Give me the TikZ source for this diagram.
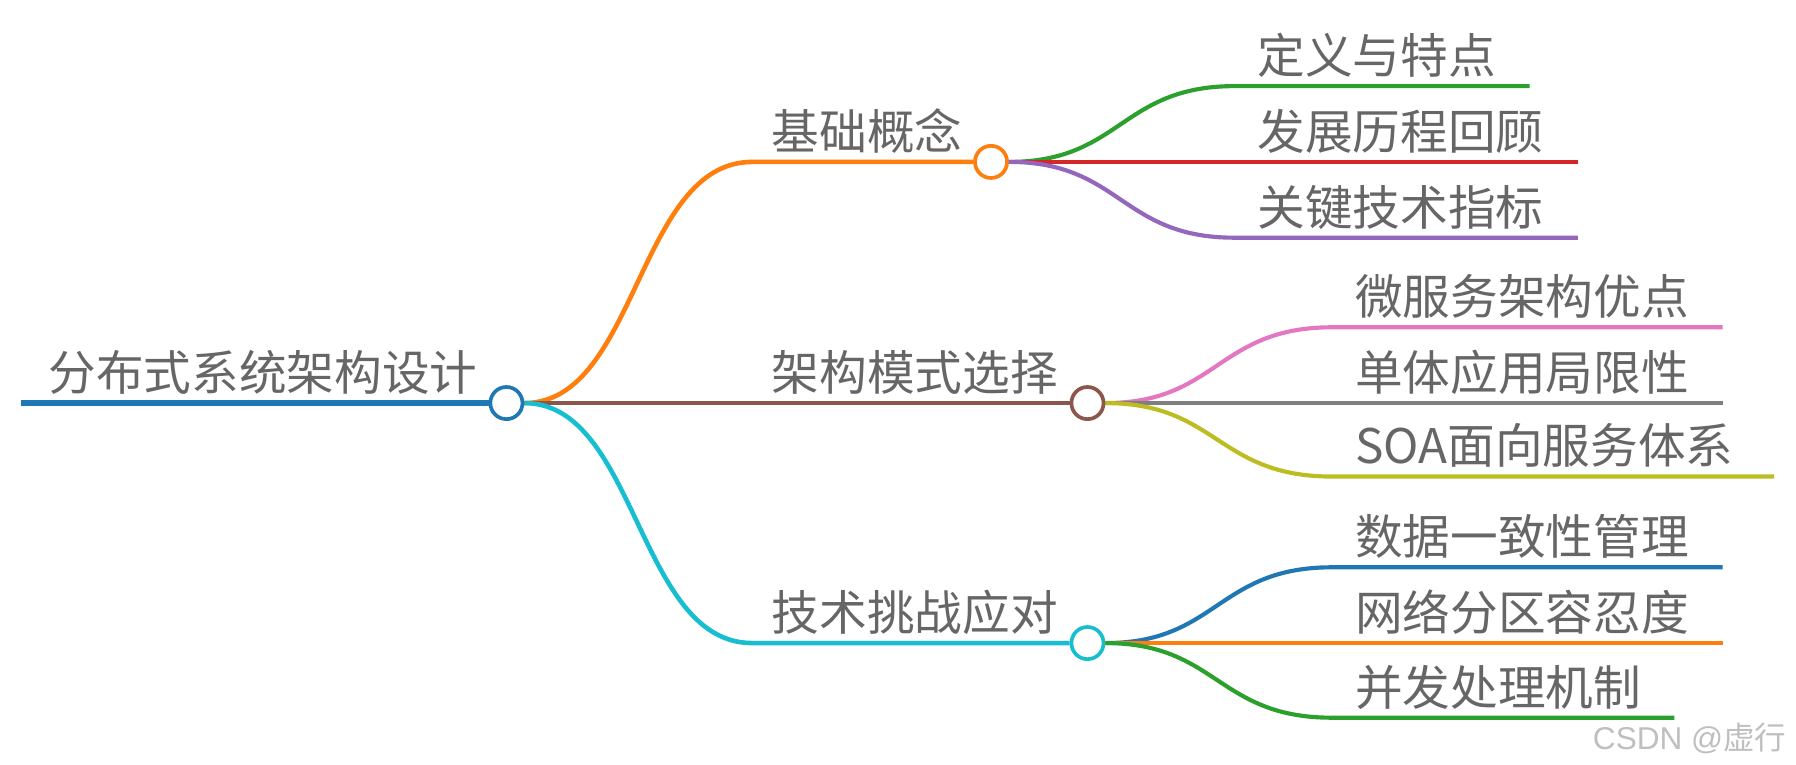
\documentclass[tikz,border=0pt]{standalone}
\usepackage{fontspec}
\newfontfamily\cjk{Noto Sans CJK SC}
\newfontfamily\wm{Liberation Sans}
\definecolor{cblue}{HTML}{1F77B4}
\definecolor{corange}{HTML}{FF7F0E}
\definecolor{cgreen}{HTML}{2CA02C}
\definecolor{cred}{HTML}{D62728}
\definecolor{cpurple}{HTML}{9467BD}
\definecolor{cbrown}{HTML}{8C564B}
\definecolor{cpink}{HTML}{E377C2}
\definecolor{cgray}{HTML}{7F7F7F}
\definecolor{colive}{HTML}{BCBD22}
\definecolor{ccyan}{HTML}{17BECF}
\definecolor{ctext}{HTML}{666666}
\begin{document}
\begin{tikzpicture}[x=1pt,y=-1pt,
  lbl/.style={anchor=base west,inner sep=0pt,text=ctext,font=\cjk\fontsize{41.5}{48}\selectfont},
  dot/.style={circle,draw,fill=white,minimum size=28pt,inner sep=0pt,line width=3.2pt},
  lvl0/.style={line width=5pt},
  lvl1/.style={line width=4pt},
  lvl2/.style={line width=3.6pt}]
\useasboundingbox (0,0) rectangle (1564,666);
% root
\coordinate (r0) at (18,351);
\node[dot,draw=cblue] (root) at (441,351) {};
\draw[lvl0,cblue] (r0) -- (root.west);
\node[lbl] (rootlbl) at (42,340) {分布式系统架构设计};
% level 1 dots
\node[dot,draw=corange] (b1) at (863,141) {};
\node[dot,draw=cbrown] (b2) at (947,351) {};
\node[dot,draw=ccyan] (b3) at (947,560) {};
\coordinate (b1s) at (655,141);
\coordinate (b3s) at (655,560);
% level 1 links
\draw[lvl1,corange] (root.east) .. controls (555,351) and (555,141) .. (b1s) -- (b1.west);
\draw[lvl1,cbrown] (root.east) -- (b2.west);
\draw[lvl1,ccyan] (root.east) .. controls (555,351) and (555,560) .. (b3s) -- (b3.west);
\node[lbl] (l1) at (672,130) {基础概念};
\node[lbl] (l2) at (672,340) {架构模式选择};
\node[lbl] (l3) at (672,549) {技术挑战应对};
% leaves of b1
\coordinate (a1) at (1075,75);  \coordinate (a1e) at (1332,75);
\coordinate (a2e) at (1374,141);
\coordinate (a3) at (1075,207); \coordinate (a3e) at (1374,207);
\draw[lvl2,cgreen] (b1.east) .. controls (976,141) and (976,75) .. (a1) -- (a1e);
\draw[lvl2,cred] (b1.east) -- (a2e);
\draw[lvl2,cpurple] (b1.east) .. controls (976,141) and (976,207) .. (a3) -- (a3e);
\node[lbl] (t11) at (1095,64) {定义与特点};
\node[lbl] (t12) at (1095,130) {发展历程回顾};
\node[lbl] (t13) at (1095,196) {关键技术指标};
% leaves of b2
\coordinate (c1) at (1160,285); \coordinate (c1e) at (1500,285);
\coordinate (c2e) at (1500,351);
\coordinate (c3) at (1160,415); \coordinate (c3e) at (1545,415);
\draw[lvl2,cpink] (b2.east) .. controls (1060,351) and (1060,285) .. (c1) -- (c1e);
\draw[lvl2,cgray] (b2.east) -- (c2e);
\draw[lvl2,colive] (b2.east) .. controls (1060,351) and (1060,415) .. (c3) -- (c3e);
\node[lbl] (t21) at (1180,274) {微服务架构优点};
\node[lbl] (t22) at (1180,340) {单体应用局限性};
\node[lbl] (t23) at (1180,404) {SOA面向服务体系};
% leaves of b3
\coordinate (d1) at (1160,494); \coordinate (d1e) at (1500,494);
\coordinate (d2e) at (1500,560);
\coordinate (d3) at (1160,625); \coordinate (d3e) at (1458,625);
\draw[lvl2,cblue] (b3.east) .. controls (1060,560) and (1060,494) .. (d1) -- (d1e);
\draw[lvl2,corange] (b3.east) -- (d2e);
\draw[lvl2,cgreen] (b3.east) .. controls (1060,560) and (1060,625) .. (d3) -- (d3e);
\node[lbl] (t31) at (1180,483) {数据一致性管理};
\node[lbl] (t32) at (1180,549) {网络分区容忍度};
\node[lbl] (t33) at (1180,614) {并发处理机制};
% watermark
\node[anchor=base west,inner sep=0pt,text=black!25,font=\fontsize{27.5}{32}\selectfont] (wm) at (1387,653) {{\wm CSDN @}{\cjk 虚行}};
\end{tikzpicture}
\end{document}
